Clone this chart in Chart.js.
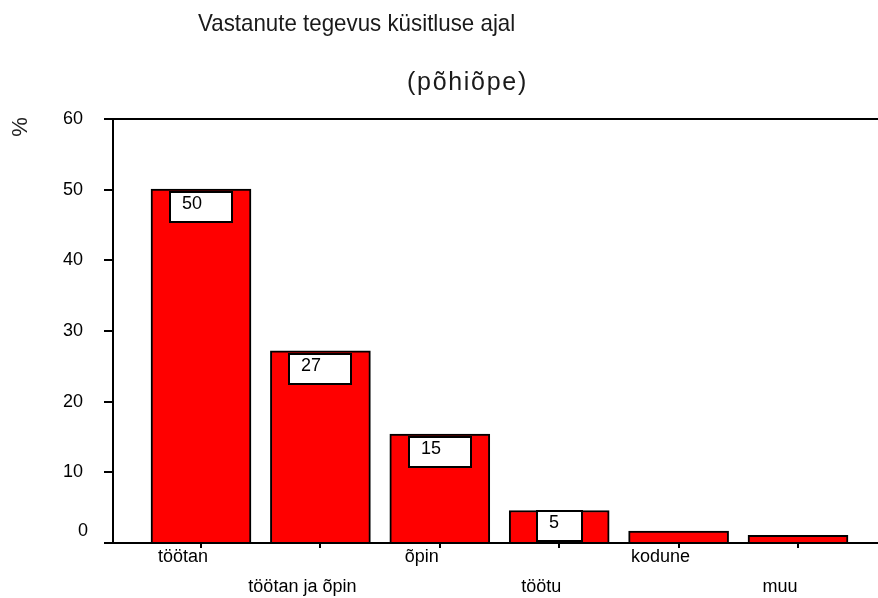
<!DOCTYPE html>
<html>
<head>
<meta charset="utf-8">
<script src="https://cdn.jsdelivr.net/npm/chart.js@4.4.1/dist/chart.umd.min.js"></script>
<style>
  html, body { margin: 0; padding: 0; background: #fff; }
  #wrap { width: 878px; height: 598px; position: relative; }
</style>
</head>
<body>
<div id="wrap"><canvas id="c"></canvas></div>
<script>
const titleText = 'Vastanute tegevus küsitluse ajal';
const subtitleText = '(põhiõpe)';
const yAxisTitle = '%';
const categories = ['töötan', 'töötan ja õpin', 'õpin', 'töötu', 'kodune', 'muu'];
const values = [50.1, 27.2, 15.4, 4.6, 1.7, 1.1];
const valueLabels = ['50', '27', '15', '5', '', ''];
const yTicks = [0, 10, 20, 30, 40, 50, 60];

const FONT = "'Liberation Sans', Arial, sans-serif";
Chart.defaults.color = '#000';
Chart.defaults.font.family = FONT;

const points = categories.map((c, i) => ({ x: i, y: values[i] }));

const decor = {
  id: 'decor',
  afterDatasetsDraw(chart) {
    const ctx = chart.ctx;
    const meta = chart.getDatasetMeta(0);
    ctx.save();
    meta.data.forEach((el, i) => {
      const txt = valueLabels[i];
      if (!txt) return;
      const w = txt.length === 1 ? 45 : 62;
      const h = 30;
      const top = Math.round(Math.min(el.y + 3, el.base - 31));
      const left = Math.round(el.x - w / 2);
      ctx.fillStyle = '#fff';
      ctx.fillRect(left, top, w, h);
      ctx.strokeStyle = '#000';
      ctx.lineWidth = 2;
      ctx.strokeRect(left, top, w, h);
      ctx.fillStyle = '#000';
      ctx.font = '18px ' + FONT;
      ctx.textAlign = 'left';
      ctx.textBaseline = 'alphabetic';
      ctx.fillText(txt, left + 12, top + 17);
    });
    ctx.restore();
  },
  afterDraw(chart) {
    const ctx = chart.ctx;
    const ys = chart.scales.y;
    const area = chart.chartArea;
    ctx.save();
    // top frame line
    ctx.strokeStyle = '#000';
    ctx.lineWidth = 2;
    const topY = Math.round(ys.getPixelForValue(yTicks[yTicks.length - 1]));
    ctx.beginPath();
    ctx.moveTo(area.left - 9, topY);
    ctx.lineTo(chart.width, topY);
    ctx.stroke();

    // zero label (offset upward as in original)
    ctx.fillStyle = '#000';
    ctx.font = '18px ' + FONT;
    ctx.textAlign = 'right';
    ctx.textBaseline = 'middle';
    ctx.fillText(String(yTicks[0]), area.left - 25, ys.getPixelForValue(yTicks[0]) - 12);

    // title
    ctx.fillStyle = '#1a1a1a';
    ctx.textAlign = 'left';
    ctx.textBaseline = 'alphabetic';
    ctx.save();
    ctx.translate(198, 31);
    ctx.scale(0.93, 1);
    ctx.font = '24px ' + FONT;
    ctx.fillText(titleText, 0, 0);
    ctx.restore();

    ctx.save();
    ctx.font = '25px ' + FONT;
    if ('letterSpacing' in ctx) ctx.letterSpacing = '1.7px';
    ctx.fillText(subtitleText, 407, 90);
    ctx.restore();

    // rotated % label
    ctx.save();
    ctx.translate(21, 127);
    ctx.rotate(-Math.PI / 2);
    ctx.font = '22px ' + FONT;
    ctx.textAlign = 'center';
    ctx.textBaseline = 'middle';
    ctx.fillStyle = '#222';
    ctx.fillText(yAxisTitle, 0, 0);
    ctx.restore();
    ctx.restore();
  }
};

new Chart(document.getElementById('c'), {
  type: 'bar',
  data: {
    datasets: [{
      data: points,
      backgroundColor: '#ff0000',
      borderColor: '#000',
      borderWidth: 2,
      borderSkipped: 'start',
      barThickness: 100
    }]
  },
  options: {
    responsive: true,
    maintainAspectRatio: false,
    animation: false,
    layout: { padding: { top: 119, left: 0, right: 0, bottom: 0 } },
    plugins: { legend: { display: false }, tooltip: { enabled: false }, title: { display: false } },
    scales: {
      x: {
        type: 'linear',
        min: -0.737,
        max: 5.67,
        offset: false,
        z: 1,
        afterBuildTicks: (scale) => { scale.ticks = categories.map((c, i) => ({ value: i })); },
        afterFit: (scale) => { scale.height = 55; },
        grid: { offset: false, drawOnChartArea: false, drawTicks: true, tickLength: 5, color: '#000', lineWidth: 2 },
        border: { display: true, color: '#000', width: 2 },
        ticks: {
          autoSkip: false,
          maxRotation: 0,
          minRotation: 0,
          padding: 2,
          labelOffset: -18,
          color: '#000',
          font: { size: 18, family: FONT, lineHeight: '15px' },
          callback: (v, i) => (i % 2 === 0 ? categories[i] : ['', '', categories[i]])
        }
      },
      y: {
        min: yTicks[0],
        max: yTicks[yTicks.length - 1],
        afterBuildTicks: (scale) => { scale.ticks = yTicks.map(v => ({ value: v })); },
        afterFit: (scale) => { scale.width = 113; },
        grid: { drawOnChartArea: false, drawTicks: true, tickLength: 9, color: '#000', lineWidth: 2 },
        border: { display: true, color: '#000', width: 2 },
        ticks: {
          padding: 21,
          color: '#000',
          font: { size: 18, family: FONT },
          callback: (v) => (v === 0 ? '' : String(v))
        }
      }
    }
  },
  plugins: [decor]
});
</script>
</body>
</html>
